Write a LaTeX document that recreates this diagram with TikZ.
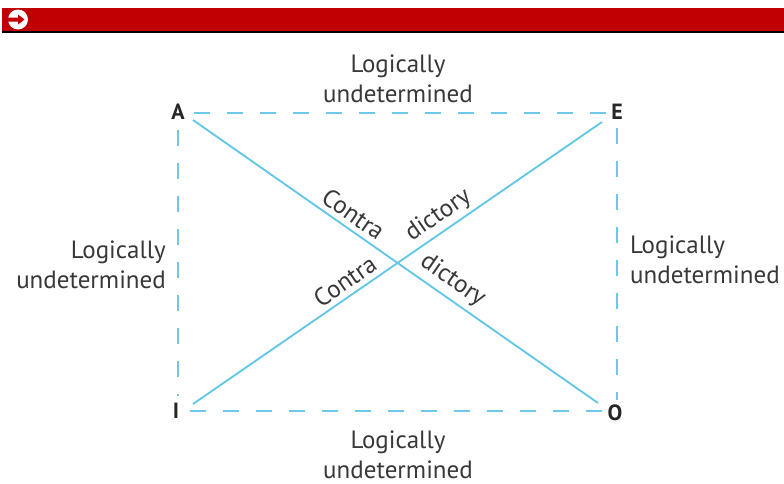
\documentclass[tikz,border=0pt]{standalone}
\usepackage{fontspec}
\setmainfont{PT Sans}
\definecolor{hdrred}{RGB}{192,0,0}
\definecolor{diagblue}{RGB}{95,198,232}
\definecolor{boxblue}{RGB}{110,200,235}
\begin{document}
\begin{tikzpicture}[x=1pt,y=-1pt,
  txt/.style={text=black!78, font=\fontsize{25}{30}\selectfont, inner sep=0pt},
  letter/.style={text=black!85, font=\fontsize{22}{22}\selectfont\bfseries, inner sep=0pt},
  diag/.style={draw=diagblue, line width=1.8pt},
  dbox/.style={draw=boxblue, line width=2.2pt, dash pattern=on 16pt off 17pt},
  slab/.style={sloped, txt, inner sep=5pt, anchor=south}]
\useasboundingbox (0,0) rectangle (784,483);
\fill[white] (0,0) rectangle (784,483);
% header bar
\fill[hdrred] (2,8) rectangle (784,31);
\fill[black] (2,31) rectangle (784,33);
\fill[white] (18,19.5) circle (10);
\fill[hdrred] (8,17.5) -- (18,17.5) -- (18,14.5) -- (24.5,19.5) -- (18,24.5) -- (18,21.5) -- (8,21.5) -- cycle;
% corner letters
\node[letter] (A) at (178,112) {A};
\node[letter] (E) at (617,112) {E};
\node[letter] (I) at (176,411) {I};
\node[letter] (O) at (615,413) {O};
% line ends
\coordinate (t1) at (194,113);
\coordinate (t2) at (606,113);
\coordinate (l1) at (178,130);
\coordinate (l2) at (178,396);
\coordinate (r1) at (617,128);
\coordinate (r2) at (617,400);
\coordinate (b1) at (190,411);
\coordinate (b2) at (602,411);
\coordinate (ao1) at (193,120);
\coordinate (ao2) at (598,403);
\coordinate (ie1) at (193,404);
\coordinate (ie2) at (602,122);
% dashed box
\draw[dbox] (t1) -- (t2);
\draw[dbox] (b1) -- (b2);
\draw[dbox] (l1) -- (l2);
\draw[dbox] (r1) -- (r2);
% diagonals
\draw[diag] (ao1) -- node[slab, pos=0.375] (c1) {Contra} node[slab, pos=0.617] (d2) {dictory} (ao2);
\draw[diag] (ie1) -- node[slab, pos=0.392] (c2) {Contra} node[slab, pos=0.622, inner sep=3.5pt] (d1) {dictory} (ie2);
% labels
\node[txt, align=center, anchor=base] (top) at (398,102) {Logically\\undetermined};
\node[txt, align=center, anchor=base] (bot) at (398,478) {Logically\\undetermined};
\node[txt, align=right, anchor=base east] (left) at (166,288) {Logically\\undetermined};
\node[txt, align=left, anchor=base west] (right) at (630,283) {Logically\\undetermined};
\end{tikzpicture}
\end{document}
